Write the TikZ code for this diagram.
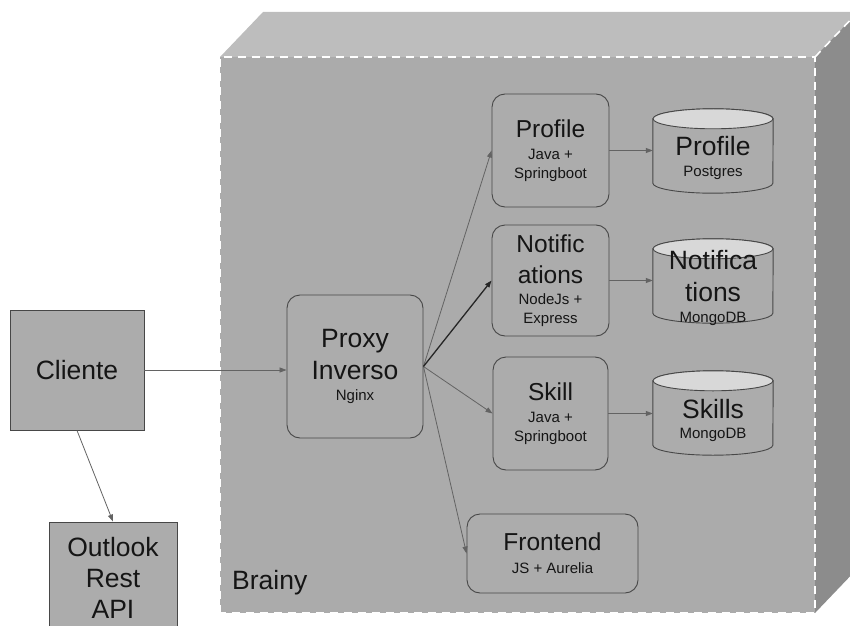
\documentclass[tikz,border=0pt]{standalone}
\usepackage{fontspec}
\setmainfont{Liberation Sans}
\usepackage{xcolor}
\usepackage{tikz}
\usetikzlibrary{arrows.meta}
\definecolor{facegray}{HTML}{ABABAB}
\definecolor{topgray}{HTML}{BDBDBD}
\definecolor{sidegray}{HTML}{8C8C8C}
\definecolor{boxgray}{HTML}{ACACAC}
\definecolor{dbtop}{HTML}{D8D8D8}
\definecolor{linegray}{HTML}{474747}
\definecolor{txtgray}{HTML}{151515}
\newcommand{\fntbig}{\fontsize{26.5}{32}\selectfont}
\newcommand{\fntmid}{\fontsize{24.5}{31}\selectfont}
\newcommand{\fntsmall}{\fontsize{15}{18}\selectfont}
\pgfdeclarelayer{cube}
\pgfdeclarelayer{db}
\pgfsetlayers{cube,db,main}
\tikzset{every picture/.style={x=1pt,y=1pt},
  plainbox/.style={draw=linegray, line width=0.9pt, fill=boxgray, text=txtgray, align=center, font=\fntbig, inner sep=0pt},
  svcbox/.style={draw=linegray, line width=0.9pt, fill=boxgray, text=txtgray, align=center, font=\fntmid, rounded corners=13pt, inner sep=0pt, minimum width=117pt, minimum height=113pt},
  dbnode/.style={text=txtgray, align=center, font=\fntbig, inner sep=0pt, minimum width=120pt, minimum height=84pt},
  dbline/.style={draw=linegray, line width=0.9pt},
  cubedash/.style={draw=white, line width=1.6pt, dash pattern=on 8pt off 6pt},
  link/.style={draw=linegray!85, line width=0.8pt, -{Triangle[length=7pt,width=5pt]}},
  boldlink/.style={draw=black!85, line width=1.3pt}}

\begin{document}
\begin{tikzpicture}
    \useasboundingbox (0,0) rectangle (850,625);
    \clip (0,0) rectangle (850,625);

    % the Brainy box
    \begin{pgfonlayer}{cube}
      \fill[topgray] (220,568) -- (263,613) -- (858,613) -- (815,568) -- cycle;
      \fill[sidegray] (815,568) -- (858,613) -- (858,57) -- (815,12) -- cycle;
      \fill[facegray] (220,12) rectangle (815,568);
      \draw[cubedash] (220,12) rectangle (815,568);
      \draw[cubedash] (815,568) -- (858,613);
    \end{pgfonlayer}
    \node[text=txtgray, font=\fntbig, anchor=west, inner sep=0pt] (brainy) at (232,42) {Brainy};

    \node[plainbox, minimum width=134pt, minimum height=120pt] (cliente) at (77,255) {Cliente};
    \node[plainbox, font=\fontsize{26.5}{31}\selectfont, minimum width=128pt, minimum height=112pt] (outlook) at (113,47) {Outlook\\Rest\\API};

    \node[svcbox, font=\fntbig, minimum width=136pt, minimum height=143pt] (proxy) at (355,258.5)
      {Proxy\\Inverso\\[-11pt]{\fntsmall Nginx}};

    \node[svcbox] (profile) at (550.5,474.5) {Profile\\[-9pt]{\fntsmall Java +}\\[-12.5pt]{\fntsmall Springboot}};
    \node[svcbox, minimum height=111pt] (notif) at (550.5,344.5)
      {Notific\\ations\\[-9.5pt]{\fntsmall NodeJs +}\\[-12.5pt]{\fntsmall Express}};
    \node[svcbox, minimum width=115pt] (skill) at (550.5,211.5) {Skill\\[-9pt]{\fntsmall Java +}\\[-12.5pt]{\fntsmall Springboot}};
    \node[svcbox, minimum width=171pt, minimum height=79pt] (frontend) at (552.5,71.5)
      {Frontend\\[-8pt]{\fntsmall JS + Aurelia}};

    \node[dbnode] (dbprof) at (713,467) {Profile\\[-11.5pt]{\fntsmall Postgres}};
    \node[dbnode] (dbnotif) at (713,337) {Notifica\\tions\\[-11pt]{\fntsmall MongoDB}};
    \node[dbnode] (dbskill) at (713,205) {Skills\\[-12pt]{\fntsmall MongoDB}};

    \begin{pgfonlayer}{db}
      \foreach \db in {dbprof, dbnotif, dbskill} {
        \draw[dbline, fill=boxgray] ([yshift=-3pt]\db.north west) -- ([yshift=17pt]\db.south west)
          arc[start angle=180, end angle=360, x radius=60pt, y radius=10pt]
          -- ([yshift=-3pt]\db.north east)
          arc[start angle=0, end angle=180, x radius=60pt, y radius=10pt] -- cycle;
        \draw[dbline, fill=dbtop] ([yshift=-3pt]\db.north) ellipse[x radius=60pt, y radius=10pt];
      }
    \end{pgfonlayer}

    \draw[link] (cliente.east) -- (cliente.east -| proxy.west);
    \draw[link] (cliente.south) -- (outlook.north);
    \foreach \to in {profile, skill, frontend} \draw[link] (proxy.east) -- (\to.west);
    \draw[link, boldlink] (proxy.east) -- (notif.west);
    \foreach \from/\to in {profile/dbprof, notif/dbnotif, skill/dbskill}
      \draw[link] (\from.east) -- (\from.east -| \to.west);
  \end{tikzpicture}
\end{document}
